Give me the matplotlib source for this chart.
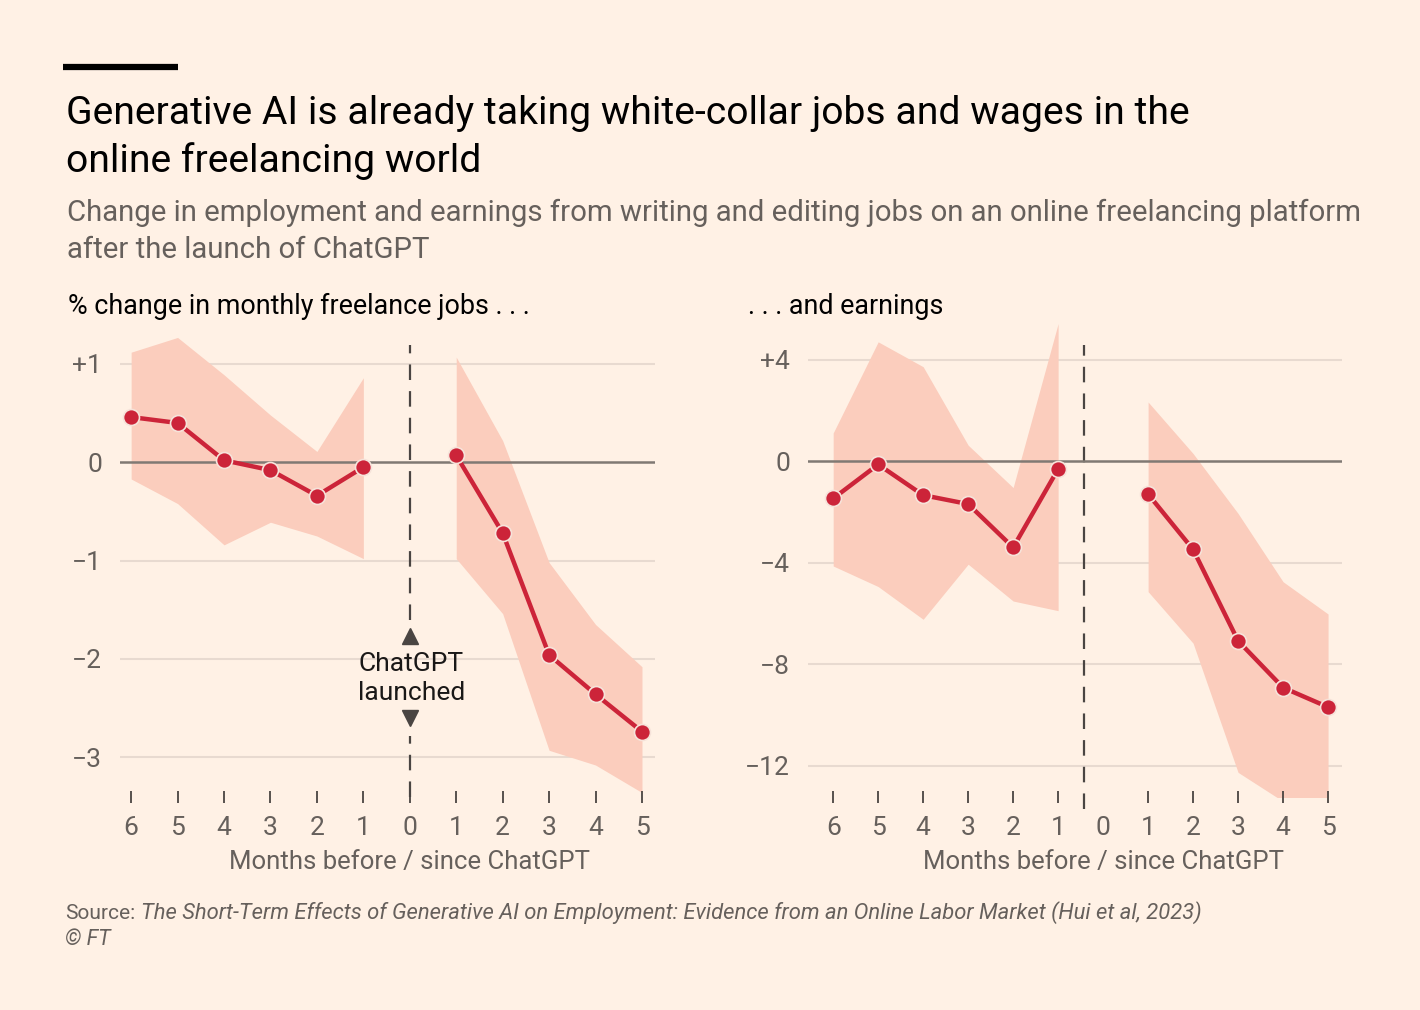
import matplotlib

matplotlib.use("Agg")

import matplotlib.pyplot as plt
from matplotlib.lines import Line2D
from matplotlib.transforms import blended_transform_factory

# months relative to the ChatGPT launch (pre: -6..-1, post: 1..5)
months_pre = [-6, -5, -4, -3, -2, -1]
months_post = [1, 2, 3, 4, 5]

jobs_pre = [0.46, 0.40, 0.02, -0.08, -0.34, -0.05]
jobs_pre_hi = [1.12, 1.27, 0.89, 0.48, 0.11, 0.86]
jobs_pre_lo = [-0.17, -0.42, -0.84, -0.61, -0.75, -0.98]
jobs_post = [0.07, -0.72, -1.96, -2.36, -2.74]
jobs_post_hi = [1.07, 0.22, -1.02, -1.65, -2.08]
jobs_post_lo = [-0.98, -1.54, -2.93, -3.08, -3.36]

earn_pre = [-1.47, -0.13, -1.34, -1.69, -3.40, -0.31]
earn_pre_hi = [1.11, 4.70, 3.72, 0.63, -1.04, 5.42]
earn_pre_lo = [-4.13, -4.94, -6.23, -4.06, -5.51, -5.89]
earn_post = [-1.30, -3.48, -7.08, -8.92, -9.69]
earn_post_hi = [2.33, 0.30, -2.06, -4.75, -6.02]
earn_post_lo = [-5.14, -7.17, -12.26, -13.4, -13.4]

x_ticks = list(range(-6, 6))
x_tick_labels = [str(abs(m)) for m in x_ticks]
jobs_yticks = [1, 0, -1, -2, -3]
jobs_ylabels = ["+1", "0", "\u22121", "\u22122", "\u22123"]
earn_yticks = [4, 0, -4, -8, -12]
earn_ylabels = ["+4", "0", "\u22124", "\u22128", "\u221212"]

BG = "#FFF1E5"
BAND = "#FBCDBD"
RED = "#CC2439"
GREY = "#66605C"
GRID = "#E8DAD0"
ZERO = "#807973"
DASH = "#4A4542"

plt.rcParams["font.family"] = ["Roboto", "DejaVu Sans"]

W, H = 1420, 1010
fig = plt.figure(figsize=(W / 100, H / 100), dpi=100, facecolor=BG)


def px_axes(x0, y_top, x1, y_bot):
    return fig.add_axes([x0 / W, 1 - y_bot / H, (x1 - x0) / W, (y_bot - y_top) / H])


def fig_text(x, y, s, **kw):
    # x, y in pixels from the top-left corner, y is the baseline
    kw.setdefault("va", "baseline")
    return fig.text(x / W, 1 - y / H, s, **kw)


def style_panel(ax, yticks, ylabels, xlim, ylim):
    ax.set_facecolor(BG)
    for s in ax.spines.values():
        s.set_visible(False)
    ax.set_xlim(*xlim)
    ax.set_ylim(*ylim)
    for y in yticks:
        if y != 0:
            ax.axhline(y, color=GRID, lw=1.5, zorder=0)
    ax.axhline(0, color=ZERO, lw=1.8, zorder=3)
    ax.set_yticks(yticks)
    ax.set_yticklabels(ylabels)
    ax.tick_params(axis="y", length=0, pad=13, labelsize=19, labelcolor=GREY)
    ax.set_xticks(x_ticks)
    ax.set_xticklabels(x_tick_labels)
    ax.tick_params(axis="x", direction="inout", length=8, width=1.3, color=DASH,
                   pad=10, labelsize=19, labelcolor=GREY)
    trans = blended_transform_factory(ax.transData, fig.transFigure)
    ax.text(0, 1 - 869 / H, "Months before / since ChatGPT", transform=trans,
            ha="center", va="baseline", fontsize=18.5, color=GREY)


def draw_series(ax, xs, mid, lo, hi):
    ax.fill_between(xs, lo, hi, color=BAND, lw=0, zorder=1)
    ax.plot(xs, mid, color=RED, lw=3.2, zorder=4, solid_capstyle="round")
    ax.plot(xs, mid, "o", color=RED, ms=11.5, mec="#F6E3DA", mew=1.2, zorder=5)


# left panel: jobs
ax1 = px_axes(120, 334, 655, 797)
style_panel(ax1, jobs_yticks, jobs_ylabels, (-6.24, 5.28), (-3.405, 1.305))
draw_series(ax1, months_pre, jobs_pre, jobs_pre_lo, jobs_pre_hi)
draw_series(ax1, months_post, jobs_post, jobs_post_lo, jobs_post_hi)
dash_kw = dict(color=DASH, lw=1.6, linestyles=(0, (7, 5)), zorder=2)
ax1.vlines(0, -1.6, 1.19, **dash_kw)
ax1.vlines(0, -3.405, -2.78, **dash_kw)
ax1.plot(0, -1.77, marker="^", color=DASH, ms=11, zorder=6)
ax1.plot(0, -2.6, marker="v", color=DASH, ms=11, zorder=6)
ax1.text(0.03, -2.2, "ChatGPT\nlaunched", ha="center", va="center",
         fontsize=19, color="#1A1817", linespacing=1.3, zorder=6)

# right panel: earnings
ax2 = px_axes(808, 319, 1342, 797)
style_panel(ax2, earn_yticks, earn_ylabels, (-6.56, 5.31), (-13.23, 5.6))
draw_series(ax2, months_pre, earn_pre, earn_pre_lo, earn_pre_hi)
draw_series(ax2, months_post, earn_post, earn_post_lo, earn_post_hi)
ax2.vlines(-0.42, -13.7, 4.57, clip_on=False, **dash_kw)
ax2.xaxis.get_major_ticks()[6].tick1line.set_visible(False)
ax2.xaxis.get_major_ticks()[6].tick2line.set_visible(False)

# header
fig.add_artist(Line2D([63 / W, 178 / W], [1 - 67 / H, 1 - 67 / H], color="black",
                      lw=4.5, solid_capstyle="butt"))
fig_text(66, 124, "Generative AI is already taking white-collar jobs and wages in the",
         fontsize=28.2, color="black")
fig_text(66, 172, "online freelancing world", fontsize=28.2, color="black")
fig_text(67, 221, "Change in employment and earnings from writing and editing jobs "
         "on an online freelancing platform", fontsize=21.2, color=GREY)
fig_text(67, 258, "after the launch of ChatGPT", fontsize=21.2, color=GREY)
fig_text(68, 314, "% change in monthly freelance jobs . . .", fontsize=19.4, color="black")
fig_text(748, 314, ". . . and earnings", fontsize=19.4, color="black")

# footer
fig_text(65, 919, "Source:", fontsize=15, color=GREY)
fig_text(141, 919, "The Short-Term Effects of Generative AI on Employment: Evidence "
         "from an Online Labor Market (Hui et al, 2023)", fontsize=15.8, color=GREY,
         style="italic")
fig_text(65, 945, "\u00a9 FT", fontsize=15.5, color=GREY, style="italic")

fig.savefig("out.png", dpi=100, facecolor=BG)
